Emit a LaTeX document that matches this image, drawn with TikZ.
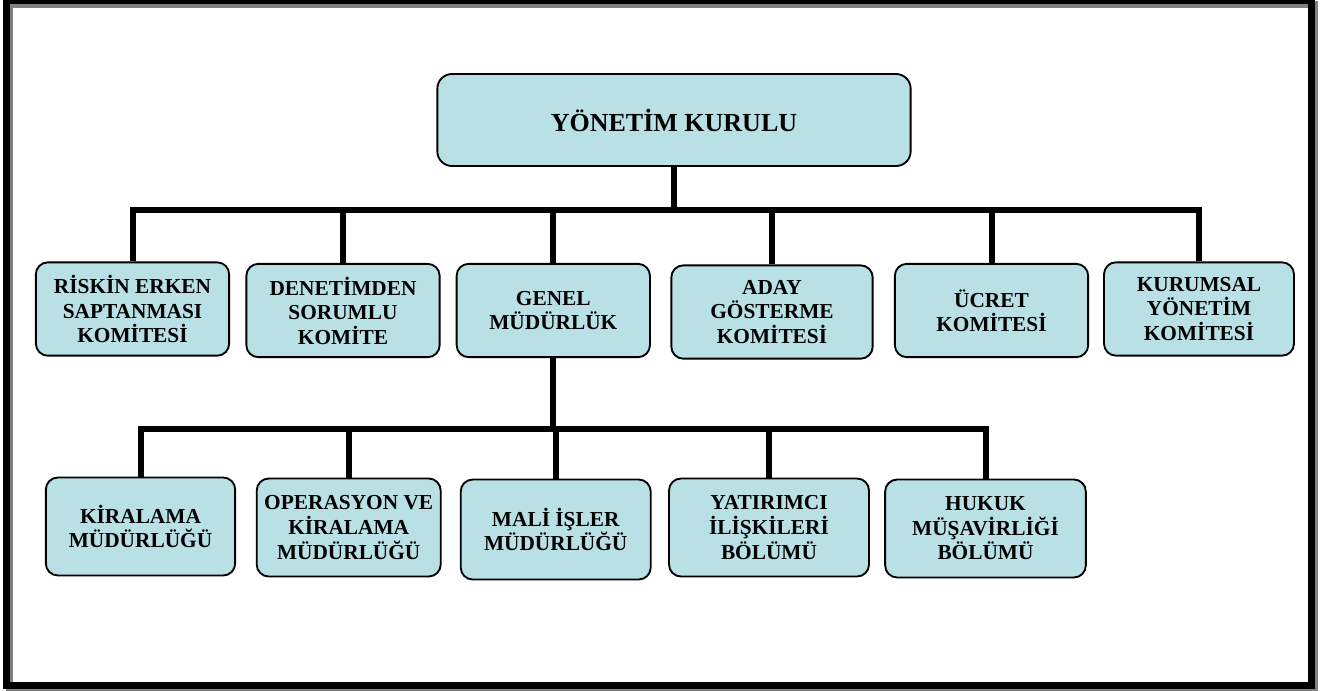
\documentclass[tikz,border=0pt]{standalone}
\usepackage{fontspec}
\setmainfont{Liberation Serif}
\definecolor{kutu}{RGB}{185,224,228}

\begin{document}
\begin{tikzpicture}[
    x=0.75pt, y=-0.75pt,
    box/.style={draw, line width=1.4pt, fill=kutu, rounded corners=9pt, align=center,
        minimum width=145pt, minimum height=70pt, inner sep=2pt,
        font=\fontsize{16}{18.4}\selectfont\bfseries}, % Стиль для блоков
    box2/.style={box, minimum height=73.5pt}, % Блоки нижнего уровня
    link/.style={line width=4.5pt} % Стиль для соединительных линий
]
    \useasboundingbox (0,0) rectangle (1328,690);

    % Рамка с тенью
    \draw[black!50, line width=5.25pt] (9.5,4.5) rectangle (1314,689);
    \draw[line width=5.25pt] (6.5,0.5) rectangle (1311,685);

    % Верхний блок
    \node[box, minimum width=355pt, minimum height=69pt, rounded corners=11pt,
        font=\fontsize{19.5}{22}\selectfont\bfseries] (yk) at (674,120) {YÖNETİM KURULU};

    % Комитеты и генеральная дирекция
    \node[box] (risk) at (132.5,309) {RİSKİN ERKEN\\SAPTANMASI\\KOMİTESİ};
    \node[box] (denet) at (343,310.5) {DENETİMDEN\\SORUMLU\\KOMİTE};
    \node[box] (genel) at (553.3,310.5) {GENEL\\MÜDÜRLÜK};
    \node[box, minimum width=151pt] (aday) at (772,312) {ADAY\\GÖSTERME\\KOMİTESİ};
    \node[box] (ucret) at (991.5,310.5) {ÜCRET\\KOMİTESİ};
    \node[box, minimum width=142.5pt] (kurum) at (1199,309) {KURUMSAL\\YÖNETİM\\KOMİTESİ};

    % Отделы
    \node[box2, minimum width=142pt] (kira) at (140.5,526.5) {KİRALAMA\\MÜDÜRLÜĞÜ};
    \node[box2, minimum width=138pt] (oper) at (348.7,527.5) {OPERASYON VE\\KİRALAMA\\MÜDÜRLÜĞÜ};
    \node[box2, minimum width=142.5pt, minimum height=75pt] (mali) at (555.7,529.5) {MALİ İŞLER\\MÜDÜRLÜĞÜ};
    \node[box2, minimum width=150pt] (yatir) at (769,527.5) {YATIRIMCI\\İLİŞKİLERİ\\BÖLÜMÜ};
    \node[box2, minimum width=150.5pt] (hukuk) at (985.5,528.5) {HUKUK\\MÜŞAVİRLİĞİ\\BÖLÜMÜ};

    % Шины
    \coordinate (h1) at (0,210);
    \coordinate (h2) at (0,429);
    \coordinate (b1) at (yk.south |- h1);
    \coordinate (b2) at (genel.south |- h2);

    % Соединения
    \draw[link] (yk.south) -- (b1);
    \foreach \n in {risk,denet,genel,aday,ucret,kurum}
        \draw[link] (\n.north) |- (b1);
    \draw[link] (genel.south) -- (b2);
    \foreach \n in {kira,oper,mali,yatir,hukuk}
        \draw[link] (\n.north) |- (b2);

\end{tikzpicture}
\end{document}
